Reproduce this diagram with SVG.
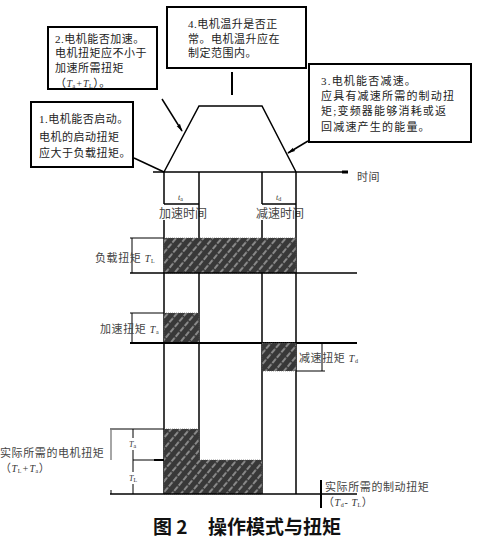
<svg xmlns="http://www.w3.org/2000/svg" width="479" height="539" viewBox="0 0 479 539">
<style>
.box{fill:#fff;stroke:#000;stroke-width:2}
.ln{stroke:#000;stroke-width:1.5;fill:none}
.thin{stroke:#000;stroke-width:1;fill:none}
.bt{font-family:"Liberation Serif","Noto Sans CJK SC",serif;font-size:11px;fill:#222;letter-spacing:0.5px}
.lb{font-family:"Liberation Serif","Noto Sans CJK SC",serif;font-size:11px;fill:#444;letter-spacing:0.6px}
.it{font-family:"Liberation Serif",serif;font-style:italic;font-size:10px;fill:#333}
.sub{font-family:"Liberation Serif",serif;font-style:normal;font-size:6px}
.hat{fill:url(#hatch);stroke:#555;stroke-width:0.6;stroke-dasharray:1 1}
.cap{font-family:"Noto Sans CJK SC",sans-serif;font-size:19px;font-weight:bold;fill:#111}
</style>
<defs>
<pattern id="hatch" width="7" height="7" patternUnits="userSpaceOnUse" patternTransform="rotate(40)">
<rect width="7" height="7" fill="#383838"/>
<line x1="1" y1="0" x2="1" y2="7" stroke="#fff" stroke-width="0.9" stroke-dasharray="5 1.5" opacity="0.9"/>
</pattern>
<marker id="ah" markerWidth="8" markerHeight="6" refX="7" refY="3" orient="auto" markerUnits="userSpaceOnUse">
<path d="M0,1 L8,3 L0,5 Z" fill="#000"/>
</marker>
</defs>
<rect width="479" height="539" fill="#fff"/>

<g id="box1">
<rect class="box" x="31" y="102" width="102" height="65"/>
<text class="bt" x="39" y="123">1.电机能否启动。</text>
<text class="bt" x="39" y="141">电机的启动扭矩</text>
<text class="bt" x="39" y="157">应大于负载扭矩。</text>
</g>
<g id="box2">
<rect class="box" x="48" y="27" width="109" height="62"/>
<text class="bt" x="55" y="43">2.电机能否加速。</text>
<text class="bt" x="55" y="57">电机扭矩应不小于</text>
<text class="bt" x="55" y="72">加速所需扭矩</text>
<text class="bt" x="55" y="87">（<tspan class="it">T<tspan class="sub" dy="1">a</tspan><tspan dy="-1">+T</tspan><tspan class="sub" dy="1">L</tspan></tspan><tspan dy="-1">）。</tspan></text>
</g>
<g id="box4">
<rect class="box" x="167" y="7" width="139" height="61"/>
<text class="bt" x="188" y="28">4.电机温升是否正</text>
<text class="bt" x="188" y="43">常。电机温升应在</text>
<text class="bt" x="188" y="57">制定范围内。</text>
</g>
<g id="box3">
<rect class="box" x="309" y="64" width="162" height="78"/>
<text class="bt" x="321" y="85" style="letter-spacing:1.2px">3.电机能否减速。</text>
<text class="bt" x="321" y="100" style="letter-spacing:1.2px">应具有减速所需的制动扭</text>
<text class="bt" x="321" y="115" style="letter-spacing:1.2px">矩;变频器能够消耗或返</text>
<text class="bt" x="321" y="131" style="letter-spacing:1.2px">回减速产生的能量。</text>
</g>

<g id="speed-profile">
<line class="ln" x1="153" y1="172" x2="347" y2="172"/>
<line x1="342" y1="172" x2="348" y2="172" stroke="#000" stroke-width="3"/>
<text class="lb" x="357" y="181">时间</text>
<polyline class="ln" points="164,172 199,106 262,106 296,172"/>
<line class="ln" x1="164" y1="172" x2="164" y2="204"/>
<line class="ln" x1="164" y1="204" x2="199" y2="204"/>
<line class="ln" x1="262" y1="172" x2="262" y2="204"/>
<line class="ln" x1="262" y1="204" x2="296" y2="204"/>
<text class="it" x="178" y="200" style="font-size:8px">t<tspan class="sub" dy="1">a</tspan></text>
<text class="it" x="276" y="200" style="font-size:8px">t<tspan class="sub" dy="1">d</tspan></text>
<text class="lb" x="159" y="218" style="font-size:12px;letter-spacing:0">加速时间</text>
<text class="lb" x="256" y="218" style="font-size:12px;letter-spacing:0">减速时间</text>
</g>

<g id="time-lines">
<line class="ln" x1="164" y1="220" x2="164" y2="494"/>
<line class="ln" x1="199" y1="172" x2="199" y2="460"/>
<line class="ln" x1="262" y1="220" x2="262" y2="494"/>
<line class="ln" x1="296" y1="172" x2="296" y2="494"/>
</g>

<g id="load-torque">
<rect class="hat" x="164" y="238" width="132" height="35"/>
<line class="thin" x1="130" y1="238" x2="164" y2="238"/>
<line class="ln" x1="130" y1="273" x2="357" y2="273"/>
<line class="thin" x1="132" y1="238" x2="132" y2="273"/>
<text class="lb" x="95" y="262">负载扭矩 <tspan class="it">T<tspan class="sub" dy="1">L</tspan></tspan></text>
</g>
<g id="accel-torque">
<rect class="hat" x="164" y="313" width="35" height="30"/>
<line class="thin" x1="130" y1="313" x2="164" y2="313"/>
<line class="ln" x1="130" y1="343" x2="357" y2="343" style="stroke-width:2"/>
<line class="thin" x1="132" y1="313" x2="132" y2="343"/>
<text class="lb" x="100" y="333">加速扭矩 <tspan class="it">T<tspan class="sub" dy="1">a</tspan></tspan></text>
</g>
<g id="decel-torque">
<rect class="hat" x="262" y="343" width="34" height="28"/>
<line class="thin" x1="296" y1="371" x2="325" y2="371"/>
<line class="thin" x1="322" y1="343" x2="322" y2="371"/>
<text class="lb" x="299" y="362">减速扭矩 <tspan class="it">T<tspan class="sub" dy="1">d</tspan></tspan></text>
</g>
<g id="actual-torque">
<path class="hat" d="M164,429 H199 V460 H262 V494 H164 Z"/>
<line class="thin" x1="110" y1="429" x2="164" y2="429"/>
<line class="thin" x1="133" y1="460" x2="164" y2="460"/>
<line x1="154" y1="460" x2="164" y2="460" stroke="#000" stroke-width="2"/>
<line class="ln" x1="110" y1="494" x2="357" y2="494"/>
<line x1="111" y1="430" x2="111" y2="460" stroke="#888" stroke-width="1.5"/>
<line class="thin" x1="111" y1="490" x2="111" y2="494"/>
<line class="thin" x1="133" y1="429" x2="133" y2="438"/>
<line class="thin" x1="133" y1="450" x2="133" y2="472"/>
<line class="thin" x1="133" y1="484" x2="133" y2="494"/>
<text class="it" x="129" y="447" style="font-size:8px">T<tspan class="sub" dy="1">a</tspan></text>
<text class="it" x="129" y="481" style="font-size:8px">T<tspan class="sub" dy="1">L</tspan></text>
<text class="lb" x="0" y="457">实际所需的电机扭矩</text>
<text class="lb" x="0" y="472">（<tspan class="it">T<tspan class="sub" dy="1">L</tspan><tspan dy="-1">+T</tspan><tspan class="sub" dy="1">a</tspan></tspan><tspan dy="-1">）</tspan></text>
</g>
<g id="braking-torque">
<line x1="321" y1="480" x2="321" y2="508" stroke="#000" stroke-width="2"/>
<text class="lb" x="325" y="491">实际所需的制动扭矩</text>
<text class="lb" x="323" y="506">（<tspan class="it">T<tspan class="sub" dy="1">d</tspan><tspan dy="-1">- T</tspan><tspan class="sub" dy="1">L</tspan></tspan><tspan dy="-1">）</tspan></text>
</g>

<g id="connectors">
<line class="ln" x1="134" y1="158" x2="164" y2="172"/>
<line class="ln" x1="162" y1="99" x2="182" y2="131" marker-end="url(#ah)"/>
<line class="ln" x1="308" y1="141" x2="288" y2="153" marker-end="url(#ah)"/>
<line x1="232" y1="72" x2="232" y2="95" stroke="#000" stroke-width="2"/>
</g>

<g id="caption">
<text class="cap" x="153" y="534">图 2</text>
<text class="cap" x="208" y="534">操作模式与扭矩</text>
</g>
</svg>
